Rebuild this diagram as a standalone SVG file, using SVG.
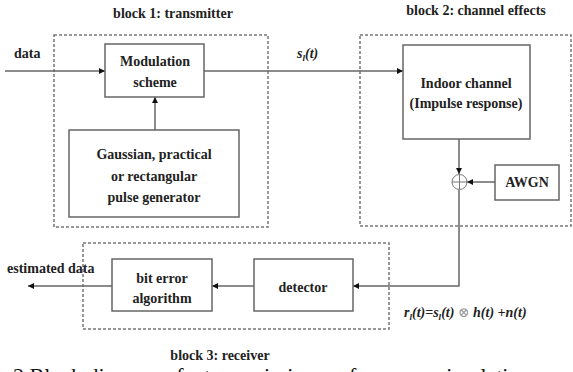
<svg xmlns="http://www.w3.org/2000/svg" width="573" height="372" viewBox="0 0 573 372">
<style>
.t{font-family:"Liberation Serif","DejaVu Serif",serif;font-weight:bold;font-size:14px;fill:#222;text-anchor:middle}
.l{font-family:"Liberation Serif","DejaVu Serif",serif;font-weight:bold;font-size:14px;fill:#222}
.i{font-family:"Liberation Serif","DejaVu Serif",serif;font-weight:bold;font-style:italic;font-size:14px;fill:#222}
.box{fill:#fff;stroke:#666;stroke-width:1.5}
.dash{fill:none;stroke:#777;stroke-width:1.5;stroke-dasharray:3 2}
.w{fill:none;stroke:#666;stroke-width:1.5}
</style>
<defs>
<marker id="ah" viewBox="0 0 10 10" refX="10" refY="5" markerWidth="6" markerHeight="6" markerUnits="userSpaceOnUse" orient="auto">
<path d="M0,0 L10,5 L0,10 z" fill="#111"/>
</marker>
</defs>
<rect width="573" height="372" fill="#fff"/>

<g id="block1">
<rect class="dash" x="54" y="35" width="214" height="192"/>
<text class="t" x="173" y="18">block 1: transmitter</text>
</g>
<g id="block2">
<rect class="dash" x="360" y="35" width="211" height="191"/>
<text class="t" x="476" y="15">block 2: channel effects</text>
</g>
<g id="block3">
<rect class="dash" x="83" y="243" width="306" height="86"/>
<text class="t" x="220" y="360">block 3: receiver</text>
</g>

<g id="connectors">
<line class="w" x1="5" y1="71" x2="105" y2="71" marker-end="url(#ah)"/>
<line class="w" x1="155" y1="130" x2="155" y2="97" marker-end="url(#ah)"/>
<line class="w" x1="204" y1="71" x2="403" y2="71" marker-end="url(#ah)"/>
<line class="w" x1="459" y1="139" x2="459" y2="174" marker-end="url(#ah)"/>
<line class="w" x1="495" y1="182" x2="467" y2="182" marker-end="url(#ah)"/>
<polyline class="w" points="459,190 459,286 353,286" marker-end="url(#ah)"/>
<line class="w" x1="254" y1="286" x2="212" y2="286" marker-end="url(#ah)"/>
<line class="w" x1="112" y1="286" x2="28" y2="286" marker-end="url(#ah)"/>
</g>

<g id="data-label"><text class="l" x="14" y="58">data</text></g>
<g id="s-label"><text class="i" x="297" y="58">s<tspan font-size="9" dy="3">l</tspan><tspan dy="-3">(t)</tspan></text></g>
<g id="est-label"><text class="l" x="7" y="273">estimated data</text></g>

<g id="modulation">
<rect class="box" x="105" y="44" width="99" height="53"/>
<text class="t" x="155" y="66">Modulation</text>
<text class="t" x="155" y="87">scheme</text>
</g>
<g id="pulse">
<rect class="box" x="69" y="130" width="170" height="87"/>
<text class="t" x="154" y="159">Gaussian, practical</text>
<text class="t" x="154" y="181">or rectangular</text>
<text class="t" x="154" y="202">pulse generator</text>
</g>
<g id="channel">
<rect class="box" x="403" y="45" width="127" height="94"/>
<text class="t" x="466" y="88">Indoor channel</text>
<text class="t" x="466" y="108">(Impulse response)</text>
</g>
<g id="sum">
<circle cx="459.5" cy="182" r="7.5" fill="#fff" stroke="#777" stroke-width="1"/>
<line x1="452" y1="182" x2="467" y2="182" stroke="#777" stroke-width="1"/>
<line x1="459.5" y1="174.5" x2="459.5" y2="189.5" stroke="#777" stroke-width="1"/>
</g>
<g id="awgn">
<rect class="box" x="495" y="165" width="64" height="35"/>
<text class="t" x="527" y="187">AWGN</text>
</g>
<g id="detector">
<rect class="box" x="254" y="259" width="99" height="52"/>
<text class="t" x="303" y="292">detector</text>
</g>
<g id="biterror">
<rect class="box" x="112" y="259" width="100" height="52"/>
<text class="t" x="162" y="283">bit error</text>
<text class="t" x="162" y="303">algorithm</text>
</g>

<g id="formula"><text class="i" x="404" y="317">r<tspan font-size="9" dy="3">l</tspan><tspan dy="-3">(t)=s</tspan><tspan font-size="9" dy="3">l</tspan><tspan dy="-3">(t) </tspan><tspan font-style="normal" font-weight="normal" fill="#999">⊗</tspan><tspan> h(t) +n(t)</tspan></text></g>

<g id="caption"><text x="13" y="383" font-family="Liberation Serif, DejaVu Serif, serif" font-size="22" fill="#111">2 Block diagram of a transmission performance simulation</text></g>
</svg>
